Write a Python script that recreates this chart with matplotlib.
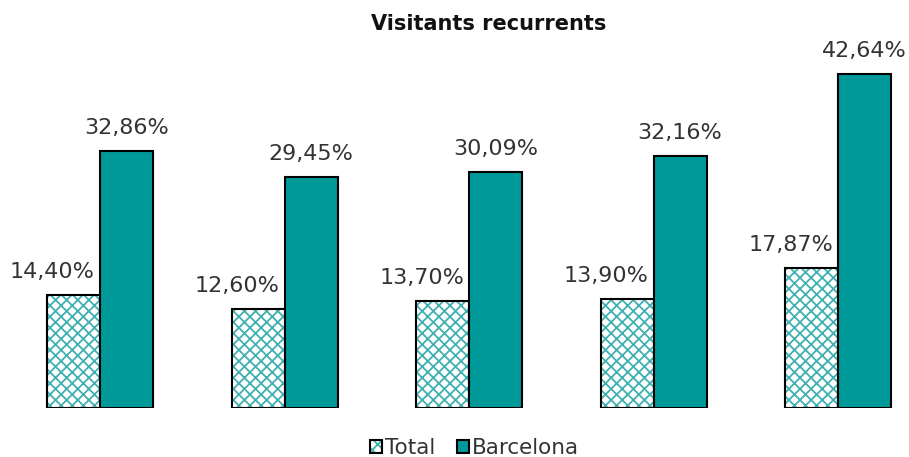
import matplotlib.pyplot as plt
import numpy as np

plt.rcParams['font.family'] = ['DejaVu Sans']
plt.rcParams['hatch.linewidth'] = 1.3

title = "Visitants recurrents"
series_names = ["Total", "Barcelona"]
total = [14.40, 12.60, 13.70, 13.90, 17.87]
barcelona = [32.86, 29.45, 30.09, 32.16, 42.64]

teal = "#009999"
hatch_col = "#40b0b0"
txt = "#333333"

fig = plt.figure(figsize=(9.09, 4.57), dpi=100)
ax = fig.add_axes([0, 49 / 457, 1, 368 / 457])

x = np.arange(len(total))
w = 53 / 184.5

b1 = ax.bar(x - w / 2, total, w, facecolor="white", edgecolor="black",
            linewidth=1.5, hatch="xxx", label=series_names[0])
for p in b1:
    p._hatch_color = plt.matplotlib.colors.to_rgba(hatch_col)
b2 = ax.bar(x + w / 2, barcelona, w, color=teal, edgecolor="black",
            linewidth=1.5, label=series_names[1])

def fmt(v):
    return f"{v:.2f}".replace(".", ",") + "%"

for xi, v in zip(x, total):
    ax.annotate(fmt(v), (xi - w / 2, v), xytext=(-21, 13), textcoords="offset pixels",
                ha="center", va="bottom", fontsize=16, color=txt)
for xi, v in zip(x, barcelona):
    ax.annotate(fmt(v), (xi + w / 2, v), xytext=(0, 13), textcoords="offset pixels",
                ha="center", va="bottom", fontsize=16, color=txt)

ax.set_xlim(-100 / 184.5, (909 - 100) / 184.5)
ax.set_ylim(0, 368 / 7.833)
ax.axis("off")

fig.text(0.538, 1 - 24 / 457, title, ha="center", va="center",
         fontsize=15, fontweight="bold", color="#111111")

fig.legend(handles=[b1[0], b2[0]], labels=series_names, loc="center",
           bbox_to_anchor=(0.522, 1 - 448 / 457), ncol=2, frameon=False,
           fontsize=15.5, handlelength=0.55, handleheight=0.55, handletextpad=0.15,
           columnspacing=1.0, labelcolor=txt)

fig.savefig("out.png", dpi=100)
